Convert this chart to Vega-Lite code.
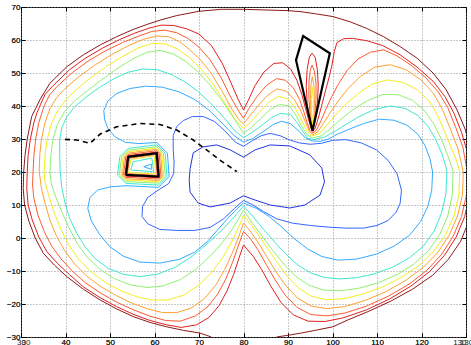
{
  "$schema": "https://vega.github.io/schema/vega-lite/v6.json",
  "width": 445,
  "height": 330,
  "autosize": "none",
  "padding": {"left": 21, "top": 7, "right": 5, "bottom": 8},
  "background": "white",
  "config": {
    "view": {"stroke": "black", "strokeWidth": 1},
    "axis": {"labelFont": "Liberation Sans", "labelFontSize": 8, "labelColor": "#222", "gridColor": "#888", "gridDash": [1, 2], "gridOpacity": 0.9, "domain": false, "tickColor": "black", "tickSize": -4, "labelPadding": 5, "title": null}
  },
  "datasets": {
    "c": [
      {"g":"m1","l":1,"x":73,"y":-31},{"g":"m1","l":1,"x":72.8,"y":-30},{"g":"m1","l":1,"x":70.2,"y":-28.8},{"g":"m1","l":1,"x":66.5,"y":-28},{"g":"m1","l":1,"x":62.7,"y":-26.9},{"g":"m1","l":1,"x":59,"y":-25.6},{"g":"m1","l":1,"x":55.2,"y":-23.8},{"g":"m1","l":1,"x":51.5,"y":-21.5},{"g":"m1","l":1,"x":47.8,"y":-18.8},{"g":"m1","l":1,"x":44,"y":-15.5},{"g":"m1","l":1,"x":40.3,"y":-11.7},{"g":"m1","l":1,"x":37.5,"y":-8.2},{"g":"m1","l":1,"x":35,"y":-4.6},{"g":"m1","l":1,"x":33.2,"y":0},{"g":"m1","l":1,"x":31.8,"y":5},{"g":"m1","l":1,"x":30.8,"y":10},{"g":"m1","l":1,"x":30.5,"y":15},{"g":"m1","l":1,"x":30.6,"y":20},{"g":"m1","l":1,"x":30.9,"y":25},{"g":"m1","l":1,"x":31.4,"y":30},{"g":"m1","l":1,"x":32.4,"y":36.8},{"g":"m1","l":1,"x":34.3,"y":42},{"g":"m1","l":1,"x":36.5,"y":46.9},{"g":"m1","l":1,"x":40.3,"y":51.9},{"g":"m1","l":1,"x":44,"y":55.5},{"g":"m1","l":1,"x":47.8,"y":58.5},{"g":"m1","l":1,"x":51.5,"y":61},{"g":"m1","l":1,"x":55.2,"y":63.2},{"g":"m1","l":1,"x":58.5,"y":64.8},{"g":"m1","l":1,"x":61.2,"y":66},{"g":"m1","l":1,"x":65,"y":67.4},{"g":"m1","l":1,"x":70,"y":68.7},{"g":"m1","l":1,"x":75,"y":69.3},{"g":"m1","l":1,"x":80,"y":69.3},{"g":"m1","l":1,"x":85,"y":69.1},{"g":"m1","l":1,"x":90,"y":68.9},{"g":"m1","l":1,"x":92.7,"y":68.6},{"g":"m1","l":1,"x":96.4,"y":67.9},{"g":"m1","l":1,"x":100.1,"y":67.1},{"g":"m1","l":1,"x":104,"y":65.5},{"g":"m1","l":1,"x":107.7,"y":63.5},{"g":"m1","l":1,"x":111.5,"y":61},{"g":"m1","l":1,"x":115.2,"y":58},{"g":"m1","l":1,"x":119,"y":54.5},{"g":"m1","l":1,"x":122.6,"y":50},{"g":"m1","l":1,"x":125.5,"y":45},{"g":"m1","l":1,"x":128,"y":38.8},{"g":"m1","l":1,"x":129.8,"y":33},{"g":"m1","l":1,"x":131,"y":27},{"g":"m1","l":1,"x":131.8,"y":20},{"g":"m1","l":1,"x":131.6,"y":12},{"g":"m1","l":1,"x":130.6,"y":5},{"g":"m1","l":1,"x":128.8,"y":-1},{"g":"m1","l":1,"x":126,"y":-6.5},{"g":"m1","l":1,"x":122.5,"y":-11.3},{"g":"m1","l":1,"x":118,"y":-15.5},{"g":"m1","l":1,"x":113,"y":-19.2},{"g":"m1","l":1,"x":108,"y":-22.3},{"g":"m1","l":1,"x":103.5,"y":-24.8},{"g":"m1","l":1,"x":100.1,"y":-26.9},{"g":"m1","l":1,"x":96.4,"y":-27.9},{"g":"m1","l":1,"x":93,"y":-28.8},{"g":"m1","l":1,"x":90.4,"y":-29.4},{"g":"m1","l":1,"x":87.4,"y":-30},{"g":"m1","l":1,"x":87.2,"y":-31},

      {"g":"m2","l":2,"x":80,"y":-2.1},{"g":"m2","l":2,"x":79,"y":-6},{"g":"m2","l":2,"x":77.8,"y":-11},{"g":"m2","l":2,"x":76.3,"y":-16},{"g":"m2","l":2,"x":74.5,"y":-20.5},{"g":"m2","l":2,"x":72.3,"y":-24},{"g":"m2","l":2,"x":69.5,"y":-26.3},{"g":"m2","l":2,"x":66,"y":-27.1},{"g":"m2","l":2,"x":62.7,"y":-26.3},{"g":"m2","l":2,"x":59,"y":-25},{"g":"m2","l":2,"x":55.2,"y":-23.1},{"g":"m2","l":2,"x":51.5,"y":-20.8},{"g":"m2","l":2,"x":47.8,"y":-18.1},{"g":"m2","l":2,"x":44,"y":-14.8},{"g":"m2","l":2,"x":40.9,"y":-11.1},{"g":"m2","l":2,"x":38.2,"y":-7.7},{"g":"m2","l":2,"x":35.8,"y":-4.1},{"g":"m2","l":2,"x":34,"y":0.3},{"g":"m2","l":2,"x":32.5,"y":5.6},{"g":"m2","l":2,"x":31.6,"y":10},{"g":"m2","l":2,"x":31.3,"y":15},{"g":"m2","l":2,"x":31.4,"y":20},{"g":"m2","l":2,"x":31.6,"y":25},{"g":"m2","l":2,"x":32.1,"y":30},{"g":"m2","l":2,"x":32.9,"y":35},{"g":"m2","l":2,"x":33.6,"y":38},{"g":"m2","l":2,"x":34.4,"y":40.5},{"g":"m2","l":2,"x":35.4,"y":43.5},{"g":"m2","l":2,"x":37.1,"y":46},{"g":"m2","l":2,"x":40.9,"y":51},{"g":"m2","l":2,"x":44.6,"y":54.6},{"g":"m2","l":2,"x":48.4,"y":57.6},{"g":"m2","l":2,"x":52.1,"y":60.1},{"g":"m2","l":2,"x":55.6,"y":62.1},{"g":"m2","l":2,"x":58.8,"y":63.6},{"g":"m2","l":2,"x":61.5,"y":64.5},{"g":"m2","l":2,"x":64.3,"y":64.4},{"g":"m2","l":2,"x":67.2,"y":63.4},{"g":"m2","l":2,"x":70,"y":61.8},{"g":"m2","l":2,"x":72.8,"y":58.3},{"g":"m2","l":2,"x":75.2,"y":53},{"g":"m2","l":2,"x":77.2,"y":47},{"g":"m2","l":2,"x":78.8,"y":42},{"g":"m2","l":2,"x":80,"y":38.8},{"g":"m2","l":2,"x":81.1,"y":41.8},{"g":"m2","l":2,"x":82.6,"y":46.2},{"g":"m2","l":2,"x":84.6,"y":50.3},{"g":"m2","l":2,"x":86.8,"y":52.9},{"g":"m2","l":2,"x":88.8,"y":53.1},{"g":"m2","l":2,"x":90.6,"y":51.2},{"g":"m2","l":2,"x":92,"y":47.8},{"g":"m2","l":2,"x":93.1,"y":43.5},{"g":"m2","l":2,"x":93.9,"y":39.5},{"g":"m2","l":2,"x":94.6,"y":36},{"g":"m2","l":2,"x":95.2,"y":33.2},{"g":"m2","l":2,"x":95.6,"y":32.3},{"g":"m2","l":2,"x":96.1,"y":33.3},{"g":"m2","l":2,"x":96.8,"y":36.3},{"g":"m2","l":2,"x":97.5,"y":39.8},{"g":"m2","l":2,"x":98.3,"y":44},{"g":"m2","l":2,"x":99.2,"y":48.5},{"g":"m2","l":2,"x":99.9,"y":52.5},{"g":"m2","l":2,"x":100.4,"y":56.5},{"g":"m2","l":2,"x":101,"y":59.2},{"g":"m2","l":2,"x":102.5,"y":60.4},{"g":"m2","l":2,"x":104.5,"y":60.5},{"g":"m2","l":2,"x":107.7,"y":59.8},{"g":"m2","l":2,"x":111.3,"y":58.3},{"g":"m2","l":2,"x":115.2,"y":55.5},{"g":"m2","l":2,"x":119,"y":51.8},{"g":"m2","l":2,"x":122.6,"y":47.5},{"g":"m2","l":2,"x":125.3,"y":42.8},{"g":"m2","l":2,"x":127.3,"y":37.8},{"g":"m2","l":2,"x":129,"y":32},{"g":"m2","l":2,"x":130.3,"y":26},{"g":"m2","l":2,"x":131,"y":20},{"g":"m2","l":2,"x":130.8,"y":13},{"g":"m2","l":2,"x":129.7,"y":6.5},{"g":"m2","l":2,"x":127.8,"y":0.3},{"g":"m2","l":2,"x":125.2,"y":-5.2},{"g":"m2","l":2,"x":121.8,"y":-10.2},{"g":"m2","l":2,"x":117.6,"y":-14.6},{"g":"m2","l":2,"x":112.8,"y":-18.5},{"g":"m2","l":2,"x":107.6,"y":-21.8},{"g":"m2","l":2,"x":102.4,"y":-24.2},{"g":"m2","l":2,"x":98.3,"y":-25.3},{"g":"m2","l":2,"x":94.5,"y":-25.2},{"g":"m2","l":2,"x":91.2,"y":-23.3},{"g":"m2","l":2,"x":88.4,"y":-19.5},{"g":"m2","l":2,"x":86.1,"y":-14.5},{"g":"m2","l":2,"x":84.1,"y":-9.6},{"g":"m2","l":2,"x":82.2,"y":-5.6},{"g":"m2","l":2,"x":80,"y":-2.1},

      {"g":"m3","l":3,"x":80,"y":2},{"g":"m3","l":3,"x":78.8,"y":-2.5},{"g":"m3","l":3,"x":77.5,"y":-7.5},{"g":"m3","l":3,"x":76,"y":-12.5},{"g":"m3","l":3,"x":74.2,"y":-17},{"g":"m3","l":3,"x":72,"y":-20.8},{"g":"m3","l":3,"x":69.2,"y":-23.6},{"g":"m3","l":3,"x":65.8,"y":-25.2},{"g":"m3","l":3,"x":62.5,"y":-25},{"g":"m3","l":3,"x":59,"y":-23.7},{"g":"m3","l":3,"x":55.3,"y":-21.8},{"g":"m3","l":3,"x":51.6,"y":-19.5},{"g":"m3","l":3,"x":48,"y":-16.8},{"g":"m3","l":3,"x":44.5,"y":-13.6},{"g":"m3","l":3,"x":41.5,"y":-10},{"g":"m3","l":3,"x":39,"y":-6.3},{"g":"m3","l":3,"x":36.9,"y":-2.5},{"g":"m3","l":3,"x":35.2,"y":2},{"g":"m3","l":3,"x":33.8,"y":7},{"g":"m3","l":3,"x":32.9,"y":12},{"g":"m3","l":3,"x":32.6,"y":16},{"g":"m3","l":3,"x":32.7,"y":20},{"g":"m3","l":3,"x":32.9,"y":25},{"g":"m3","l":3,"x":33.3,"y":30},{"g":"m3","l":3,"x":34,"y":35},{"g":"m3","l":3,"x":35.2,"y":40},{"g":"m3","l":3,"x":36.4,"y":43.3},{"g":"m3","l":3,"x":38.1,"y":45.9},{"g":"m3","l":3,"x":41.6,"y":50.2},{"g":"m3","l":3,"x":45.3,"y":53.8},{"g":"m3","l":3,"x":49.1,"y":56.8},{"g":"m3","l":3,"x":52.8,"y":59.2},{"g":"m3","l":3,"x":56.3,"y":61.1},{"g":"m3","l":3,"x":59.4,"y":62.6},{"g":"m3","l":3,"x":62.3,"y":63},{"g":"m3","l":3,"x":65,"y":62.2},{"g":"m3","l":3,"x":67.6,"y":60.4},{"g":"m3","l":3,"x":70,"y":57.8},{"g":"m3","l":3,"x":72.5,"y":54},{"g":"m3","l":3,"x":75,"y":48.5},{"g":"m3","l":3,"x":77.2,"y":42.5},{"g":"m3","l":3,"x":79,"y":38.3},{"g":"m3","l":3,"x":80,"y":36.3},{"g":"m3","l":3,"x":81.2,"y":39.2},{"g":"m3","l":3,"x":83,"y":42.8},{"g":"m3","l":3,"x":85.2,"y":46.3},{"g":"m3","l":3,"x":87.4,"y":48.3},{"g":"m3","l":3,"x":89.4,"y":47.8},{"g":"m3","l":3,"x":91.2,"y":45.5},{"g":"m3","l":3,"x":92.6,"y":42},{"g":"m3","l":3,"x":93.5,"y":38.5},{"g":"m3","l":3,"x":94.3,"y":35},{"g":"m3","l":3,"x":94.9,"y":32.6},{"g":"m3","l":3,"x":95.6,"y":31.8},{"g":"m3","l":3,"x":96.4,"y":32.7},{"g":"m3","l":3,"x":97.4,"y":35.5},{"g":"m3","l":3,"x":98.5,"y":39},{"g":"m3","l":3,"x":99.8,"y":42.8},{"g":"m3","l":3,"x":101.4,"y":46.8},{"g":"m3","l":3,"x":103.3,"y":50.8},{"g":"m3","l":3,"x":105.7,"y":54.2},{"g":"m3","l":3,"x":108.5,"y":56.3},{"g":"m3","l":3,"x":111.5,"y":57},{"g":"m3","l":3,"x":114.5,"y":55.2},{"g":"m3","l":3,"x":117.8,"y":52.2},{"g":"m3","l":3,"x":121,"y":48.5},{"g":"m3","l":3,"x":123.8,"y":44.2},{"g":"m3","l":3,"x":125.9,"y":39.5},{"g":"m3","l":3,"x":127.7,"y":33.5},{"g":"m3","l":3,"x":129.3,"y":27.5},{"g":"m3","l":3,"x":130.3,"y":20},{"g":"m3","l":3,"x":130.1,"y":13},{"g":"m3","l":3,"x":129,"y":6.5},{"g":"m3","l":3,"x":127.1,"y":0.5},{"g":"m3","l":3,"x":124.5,"y":-5},{"g":"m3","l":3,"x":121.2,"y":-9.8},{"g":"m3","l":3,"x":117.2,"y":-14},{"g":"m3","l":3,"x":112.6,"y":-17.6},{"g":"m3","l":3,"x":107.7,"y":-20.6},{"g":"m3","l":3,"x":102.9,"y":-22.7},{"g":"m3","l":3,"x":98.8,"y":-23.6},{"g":"m3","l":3,"x":95.1,"y":-23.2},{"g":"m3","l":3,"x":92,"y":-21},{"g":"m3","l":3,"x":89.3,"y":-17.2},{"g":"m3","l":3,"x":87.1,"y":-12.7},{"g":"m3","l":3,"x":85.1,"y":-8},{"g":"m3","l":3,"x":83.2,"y":-3.5},{"g":"m3","l":3,"x":81.6,"y":-0.3},{"g":"m3","l":3,"x":80,"y":2},

      {"g":"m4","l":4,"x":80,"y":4.5},{"g":"m4","l":4,"x":78.9,"y":0.3},{"g":"m4","l":4,"x":77.5,"y":-4.5},{"g":"m4","l":4,"x":75.8,"y":-9.5},{"g":"m4","l":4,"x":73.8,"y":-14.2},{"g":"m4","l":4,"x":71.3,"y":-18.3},{"g":"m4","l":4,"x":68.3,"y":-21.2},{"g":"m4","l":4,"x":65,"y":-22.6},{"g":"m4","l":4,"x":61.8,"y":-22.6},{"g":"m4","l":4,"x":58.5,"y":-21.5},{"g":"m4","l":4,"x":55,"y":-19.8},{"g":"m4","l":4,"x":51.5,"y":-17.5},{"g":"m4","l":4,"x":48,"y":-14.8},{"g":"m4","l":4,"x":44.8,"y":-11.6},{"g":"m4","l":4,"x":42,"y":-7.8},{"g":"m4","l":4,"x":39.8,"y":-3.8},{"g":"m4","l":4,"x":38,"y":0.5},{"g":"m4","l":4,"x":36.6,"y":5},{"g":"m4","l":4,"x":35.5,"y":10},{"g":"m4","l":4,"x":34.6,"y":15},{"g":"m4","l":4,"x":34.1,"y":20},{"g":"m4","l":4,"x":34.2,"y":25},{"g":"m4","l":4,"x":34.6,"y":30},{"g":"m4","l":4,"x":35.4,"y":35},{"g":"m4","l":4,"x":36.6,"y":39.5},{"g":"m4","l":4,"x":38,"y":42.5},{"g":"m4","l":4,"x":39.7,"y":45},{"g":"m4","l":4,"x":43.1,"y":49},{"g":"m4","l":4,"x":46.7,"y":52.5},{"g":"m4","l":4,"x":50.4,"y":55.6},{"g":"m4","l":4,"x":54,"y":58.2},{"g":"m4","l":4,"x":57.5,"y":60.2},{"g":"m4","l":4,"x":60.5,"y":61.2},{"g":"m4","l":4,"x":63.2,"y":61},{"g":"m4","l":4,"x":65.6,"y":59.5},{"g":"m4","l":4,"x":67.8,"y":57.2},{"g":"m4","l":4,"x":70.2,"y":54.2},{"g":"m4","l":4,"x":72.7,"y":50},{"g":"m4","l":4,"x":75.1,"y":44.7},{"g":"m4","l":4,"x":77.4,"y":39},{"g":"m4","l":4,"x":79,"y":35.8},{"g":"m4","l":4,"x":80,"y":34.6},{"g":"m4","l":4,"x":81.3,"y":36.8},{"g":"m4","l":4,"x":83.2,"y":40},{"g":"m4","l":4,"x":85.4,"y":43.2},{"g":"m4","l":4,"x":87.5,"y":45.2},{"g":"m4","l":4,"x":89.6,"y":44.5},{"g":"m4","l":4,"x":91.4,"y":42},{"g":"m4","l":4,"x":92.8,"y":38.8},{"g":"m4","l":4,"x":93.9,"y":35.2},{"g":"m4","l":4,"x":94.8,"y":32.3},{"g":"m4","l":4,"x":95.6,"y":31.3},{"g":"m4","l":4,"x":96.7,"y":32.2},{"g":"m4","l":4,"x":98,"y":34.8},{"g":"m4","l":4,"x":99.5,"y":38},{"g":"m4","l":4,"x":101.3,"y":41.5},{"g":"m4","l":4,"x":103.5,"y":45.3},{"g":"m4","l":4,"x":106.3,"y":49},{"g":"m4","l":4,"x":109.5,"y":51.8},{"g":"m4","l":4,"x":113,"y":52.5},{"g":"m4","l":4,"x":116.5,"y":51},{"g":"m4","l":4,"x":119.8,"y":48},{"g":"m4","l":4,"x":122.6,"y":44},{"g":"m4","l":4,"x":124.7,"y":39},{"g":"m4","l":4,"x":126.5,"y":33},{"g":"m4","l":4,"x":128.2,"y":27},{"g":"m4","l":4,"x":129.4,"y":20},{"g":"m4","l":4,"x":129.2,"y":13},{"g":"m4","l":4,"x":128.1,"y":6.7},{"g":"m4","l":4,"x":126.2,"y":0.8},{"g":"m4","l":4,"x":123.6,"y":-4.5},{"g":"m4","l":4,"x":120.3,"y":-9},{"g":"m4","l":4,"x":116.3,"y":-13},{"g":"m4","l":4,"x":111.8,"y":-16.4},{"g":"m4","l":4,"x":107.2,"y":-19},{"g":"m4","l":4,"x":102.7,"y":-20.8},{"g":"m4","l":4,"x":98.7,"y":-21.4},{"g":"m4","l":4,"x":95.2,"y":-20.6},{"g":"m4","l":4,"x":92.2,"y":-18.3},{"g":"m4","l":4,"x":89.6,"y":-14.6},{"g":"m4","l":4,"x":87.3,"y":-10.2},{"g":"m4","l":4,"x":85.2,"y":-5.6},{"g":"m4","l":4,"x":83.3,"y":-1.4},{"g":"m4","l":4,"x":81.7,"y":1.8},{"g":"m4","l":4,"x":80,"y":4.5},

      {"g":"m5","l":5,"x":80,"y":6.8},{"g":"m5","l":5,"x":78.9,"y":3.2},{"g":"m5","l":5,"x":77.4,"y":-1},{"g":"m5","l":5,"x":75.5,"y":-5.6},{"g":"m5","l":5,"x":73,"y":-10.2},{"g":"m5","l":5,"x":70,"y":-14.3},{"g":"m5","l":5,"x":66.6,"y":-17.3},{"g":"m5","l":5,"x":63,"y":-18.8},{"g":"m5","l":5,"x":59.5,"y":-18.8},{"g":"m5","l":5,"x":56,"y":-17.8},{"g":"m5","l":5,"x":52.5,"y":-16},{"g":"m5","l":5,"x":49,"y":-13.5},{"g":"m5","l":5,"x":45.8,"y":-10.3},{"g":"m5","l":5,"x":43,"y":-6.5},{"g":"m5","l":5,"x":40.8,"y":-2.2},{"g":"m5","l":5,"x":39,"y":2.5},{"g":"m5","l":5,"x":37.5,"y":7.5},{"g":"m5","l":5,"x":36.2,"y":13},{"g":"m5","l":5,"x":35.4,"y":17},{"g":"m5","l":5,"x":35.2,"y":20},{"g":"m5","l":5,"x":35.4,"y":25},{"g":"m5","l":5,"x":35.9,"y":30},{"g":"m5","l":5,"x":36.8,"y":34.5},{"g":"m5","l":5,"x":38.2,"y":38.5},{"g":"m5","l":5,"x":40,"y":41.8},{"g":"m5","l":5,"x":42.3,"y":44.8},{"g":"m5","l":5,"x":45.6,"y":48.5},{"g":"m5","l":5,"x":49.2,"y":52},{"g":"m5","l":5,"x":52.8,"y":55},{"g":"m5","l":5,"x":56.2,"y":57.5},{"g":"m5","l":5,"x":59.5,"y":59},{"g":"m5","l":5,"x":62.5,"y":58.8},{"g":"m5","l":5,"x":65.3,"y":57.2},{"g":"m5","l":5,"x":68,"y":54.5},{"g":"m5","l":5,"x":70.6,"y":51},{"g":"m5","l":5,"x":73.2,"y":46.5},{"g":"m5","l":5,"x":75.8,"y":41},{"g":"m5","l":5,"x":78.2,"y":35.8},{"g":"m5","l":5,"x":80,"y":33.2},{"g":"m5","l":5,"x":81.5,"y":35},{"g":"m5","l":5,"x":83.5,"y":38},{"g":"m5","l":5,"x":85.7,"y":41.2},{"g":"m5","l":5,"x":87.8,"y":42.9},{"g":"m5","l":5,"x":90,"y":42.2},{"g":"m5","l":5,"x":91.6,"y":39.4},{"g":"m5","l":5,"x":92.9,"y":36},{"g":"m5","l":5,"x":94.2,"y":32.6},{"g":"m5","l":5,"x":95.3,"y":30.9},{"g":"m5","l":5,"x":97,"y":31.6},{"g":"m5","l":5,"x":98.6,"y":34},{"g":"m5","l":5,"x":100.5,"y":37},{"g":"m5","l":5,"x":102.8,"y":40.3},{"g":"m5","l":5,"x":105.6,"y":43.6},{"g":"m5","l":5,"x":108.8,"y":46.6},{"g":"m5","l":5,"x":112.3,"y":47.9},{"g":"m5","l":5,"x":115.8,"y":47.2},{"g":"m5","l":5,"x":119,"y":45},{"g":"m5","l":5,"x":121.7,"y":41.5},{"g":"m5","l":5,"x":123.6,"y":37.2},{"g":"m5","l":5,"x":125.2,"y":32.2},{"g":"m5","l":5,"x":126.8,"y":27},{"g":"m5","l":5,"x":128,"y":23},{"g":"m5","l":5,"x":128.6,"y":20},{"g":"m5","l":5,"x":128.4,"y":13},{"g":"m5","l":5,"x":127.3,"y":6.7},{"g":"m5","l":5,"x":125.4,"y":1},{"g":"m5","l":5,"x":122.8,"y":-4},{"g":"m5","l":5,"x":119.5,"y":-8.3},{"g":"m5","l":5,"x":115.6,"y":-11.8},{"g":"m5","l":5,"x":111.3,"y":-14.8},{"g":"m5","l":5,"x":106.8,"y":-17},{"g":"m5","l":5,"x":102.5,"y":-18.4},{"g":"m5","l":5,"x":98.6,"y":-18.7},{"g":"m5","l":5,"x":95.2,"y":-17.6},{"g":"m5","l":5,"x":92.3,"y":-15.1},{"g":"m5","l":5,"x":89.8,"y":-11.5},{"g":"m5","l":5,"x":87.5,"y":-7.3},{"g":"m5","l":5,"x":85.3,"y":-3},{"g":"m5","l":5,"x":83.3,"y":1},{"g":"m5","l":5,"x":81.6,"y":4.2},{"g":"m5","l":5,"x":80,"y":6.8},

      {"g":"m6","l":6,"x":80,"y":8.5},{"g":"m6","l":6,"x":78.9,"y":5.8},{"g":"m6","l":6,"x":77.3,"y":2.3},{"g":"m6","l":6,"x":75.2,"y":-1.5},{"g":"m6","l":6,"x":72.5,"y":-5.5},{"g":"m6","l":6,"x":69.3,"y":-9.5},{"g":"m6","l":6,"x":65.8,"y":-12.6},{"g":"m6","l":6,"x":62,"y":-14.5},{"g":"m6","l":6,"x":58.3,"y":-15},{"g":"m6","l":6,"x":54.6,"y":-14.2},{"g":"m6","l":6,"x":51,"y":-12.3},{"g":"m6","l":6,"x":47.8,"y":-9.6},{"g":"m6","l":6,"x":45,"y":-6},{"g":"m6","l":6,"x":42.8,"y":-2},{"g":"m6","l":6,"x":41,"y":2.5},{"g":"m6","l":6,"x":39.3,"y":7.5},{"g":"m6","l":6,"x":37.8,"y":12.5},{"g":"m6","l":6,"x":36.8,"y":16.5},{"g":"m6","l":6,"x":36.5,"y":20},{"g":"m6","l":6,"x":36.7,"y":25},{"g":"m6","l":6,"x":37.2,"y":30},{"g":"m6","l":6,"x":38.2,"y":34.5},{"g":"m6","l":6,"x":39.8,"y":38.3},{"g":"m6","l":6,"x":42,"y":41.5},{"g":"m6","l":6,"x":44.8,"y":44.5},{"g":"m6","l":6,"x":48.2,"y":48},{"g":"m6","l":6,"x":51.8,"y":51.5},{"g":"m6","l":6,"x":55.2,"y":54.3},{"g":"m6","l":6,"x":58.3,"y":56.3},{"g":"m6","l":6,"x":61.3,"y":56.8},{"g":"m6","l":6,"x":64.2,"y":55.8},{"g":"m6","l":6,"x":66.9,"y":53.6},{"g":"m6","l":6,"x":69.5,"y":50.7},{"g":"m6","l":6,"x":72.2,"y":46.8},{"g":"m6","l":6,"x":75,"y":42},{"g":"m6","l":6,"x":77.7,"y":36.5},{"g":"m6","l":6,"x":80,"y":31.7},{"g":"m6","l":6,"x":81.6,"y":33.3},{"g":"m6","l":6,"x":83.8,"y":36.1},{"g":"m6","l":6,"x":86,"y":38.9},{"g":"m6","l":6,"x":88.1,"y":40.5},{"g":"m6","l":6,"x":90.3,"y":40},{"g":"m6","l":6,"x":91.8,"y":37.2},{"g":"m6","l":6,"x":93,"y":34},{"g":"m6","l":6,"x":94.3,"y":31.3},{"g":"m6","l":6,"x":95.5,"y":30.3},{"g":"m6","l":6,"x":97.6,"y":31},{"g":"m6","l":6,"x":99.4,"y":33},{"g":"m6","l":6,"x":101.7,"y":35.8},{"g":"m6","l":6,"x":104.5,"y":38.8},{"g":"m6","l":6,"x":107.8,"y":41.6},{"g":"m6","l":6,"x":111.3,"y":43.5},{"g":"m6","l":6,"x":114.8,"y":43.4},{"g":"m6","l":6,"x":118,"y":41.7},{"g":"m6","l":6,"x":120.7,"y":38.6},{"g":"m6","l":6,"x":122.8,"y":34.5},{"g":"m6","l":6,"x":124.5,"y":29.8},{"g":"m6","l":6,"x":125.9,"y":25},{"g":"m6","l":6,"x":126.8,"y":21.5},{"g":"m6","l":6,"x":127.1,"y":20},{"g":"m6","l":6,"x":126.9,"y":13},{"g":"m6","l":6,"x":125.9,"y":6.7},{"g":"m6","l":6,"x":124.1,"y":1},{"g":"m6","l":6,"x":121.6,"y":-3.8},{"g":"m6","l":6,"x":118.4,"y":-7.8},{"g":"m6","l":6,"x":114.5,"y":-11.1},{"g":"m6","l":6,"x":110.3,"y":-13.6},{"g":"m6","l":6,"x":106,"y":-15.2},{"g":"m6","l":6,"x":101.8,"y":-16},{"g":"m6","l":6,"x":98,"y":-15.8},{"g":"m6","l":6,"x":94.7,"y":-14.3},{"g":"m6","l":6,"x":91.8,"y":-11.7},{"g":"m6","l":6,"x":89.2,"y":-8.1},{"g":"m6","l":6,"x":86.7,"y":-4},{"g":"m6","l":6,"x":84.3,"y":0.3},{"g":"m6","l":6,"x":82,"y":4.5},{"g":"m6","l":6,"x":80,"y":8.5},

      {"g":"m7","l":7,"x":80,"y":9.7},{"g":"m7","l":7,"x":78.7,"y":7.6},{"g":"m7","l":7,"x":77,"y":5},{"g":"m7","l":7,"x":74.7,"y":1.8},{"g":"m7","l":7,"x":71.8,"y":-1.8},{"g":"m7","l":7,"x":68.4,"y":-5.6},{"g":"m7","l":7,"x":64.7,"y":-8.8},{"g":"m7","l":7,"x":60.8,"y":-10.9},{"g":"m7","l":7,"x":56.8,"y":-11.7},{"g":"m7","l":7,"x":53,"y":-11},{"g":"m7","l":7,"x":49.6,"y":-9.2},{"g":"m7","l":7,"x":46.7,"y":-6.3},{"g":"m7","l":7,"x":44.3,"y":-2.5},{"g":"m7","l":7,"x":42.5,"y":1.5},{"g":"m7","l":7,"x":41,"y":5.8},{"g":"m7","l":7,"x":40,"y":10},{"g":"m7","l":7,"x":39.2,"y":15},{"g":"m7","l":7,"x":38.8,"y":20},{"g":"m7","l":7,"x":38.7,"y":25},{"g":"m7","l":7,"x":38.7,"y":30},{"g":"m7","l":7,"x":39.2,"y":33.5},{"g":"m7","l":7,"x":40.3,"y":36.8},{"g":"m7","l":7,"x":42.1,"y":39.8},{"g":"m7","l":7,"x":44.6,"y":42.7},{"g":"m7","l":7,"x":47.6,"y":45.6},{"g":"m7","l":7,"x":50.8,"y":48.2},{"g":"m7","l":7,"x":54,"y":50.2},{"g":"m7","l":7,"x":57.3,"y":51.2},{"g":"m7","l":7,"x":60.6,"y":51},{"g":"m7","l":7,"x":63.7,"y":49.6},{"g":"m7","l":7,"x":66.7,"y":47.4},{"g":"m7","l":7,"x":69.6,"y":44.6},{"g":"m7","l":7,"x":72.5,"y":41},{"g":"m7","l":7,"x":75.4,"y":36.8},{"g":"m7","l":7,"x":78.1,"y":32.4},{"g":"m7","l":7,"x":80,"y":30.4},{"g":"m7","l":7,"x":81.7,"y":31.8},{"g":"m7","l":7,"x":84,"y":34},{"g":"m7","l":7,"x":86.3,"y":36.5},{"g":"m7","l":7,"x":88.4,"y":37.8},{"g":"m7","l":7,"x":90.6,"y":37.4},{"g":"m7","l":7,"x":91.9,"y":35.2},{"g":"m7","l":7,"x":93.1,"y":32.8},{"g":"m7","l":7,"x":94.4,"y":30.3},{"g":"m7","l":7,"x":95.8,"y":29.8},{"g":"m7","l":7,"x":98.2,"y":30.6},{"g":"m7","l":7,"x":100.4,"y":32.2},{"g":"m7","l":7,"x":103,"y":34.4},{"g":"m7","l":7,"x":106,"y":36.8},{"g":"m7","l":7,"x":109.5,"y":39},{"g":"m7","l":7,"x":113,"y":40},{"g":"m7","l":7,"x":116.3,"y":39.3},{"g":"m7","l":7,"x":119.2,"y":37.1},{"g":"m7","l":7,"x":121.5,"y":33.8},{"g":"m7","l":7,"x":123.2,"y":29.8},{"g":"m7","l":7,"x":124.6,"y":25.5},{"g":"m7","l":7,"x":125.5,"y":21.5},{"g":"m7","l":7,"x":125.7,"y":20},{"g":"m7","l":7,"x":125.5,"y":13.5},{"g":"m7","l":7,"x":124.5,"y":7.5},{"g":"m7","l":7,"x":122.8,"y":2},{"g":"m7","l":7,"x":120.4,"y":-2.5},{"g":"m7","l":7,"x":117.3,"y":-6},{"g":"m7","l":7,"x":113.6,"y":-8.8},{"g":"m7","l":7,"x":109.6,"y":-10.8},{"g":"m7","l":7,"x":105.6,"y":-12},{"g":"m7","l":7,"x":101.8,"y":-12.4},{"g":"m7","l":7,"x":98.3,"y":-12},{"g":"m7","l":7,"x":95.1,"y":-10.6},{"g":"m7","l":7,"x":92.2,"y":-8.2},{"g":"m7","l":7,"x":89.6,"y":-5},{"g":"m7","l":7,"x":87.1,"y":-1.4},{"g":"m7","l":7,"x":84.6,"y":2.5},{"g":"m7","l":7,"x":82.2,"y":6.4},{"g":"m7","l":7,"x":80,"y":9.7},

      {"g":"m8","l":8,"x":80,"y":10.6},{"g":"m8","l":8,"x":78.5,"y":8.8},{"g":"m8","l":8,"x":76.5,"y":6},{"g":"m8","l":8,"x":74.2,"y":2.5},{"g":"m8","l":8,"x":71.8,"y":-1.2},{"g":"m8","l":8,"x":69,"y":-4.3},{"g":"m8","l":8,"x":65.5,"y":-6.5},{"g":"m8","l":8,"x":61.2,"y":-7.6},{"g":"m8","l":8,"x":56.7,"y":-7.3},{"g":"m8","l":8,"x":53,"y":-5.5},{"g":"m8","l":8,"x":50,"y":-2.7},{"g":"m8","l":8,"x":47.6,"y":1.2},{"g":"m8","l":8,"x":45.8,"y":5.2},{"g":"m8","l":8,"x":45,"y":9},{"g":"m8","l":8,"x":45.5,"y":12.3},{"g":"m8","l":8,"x":47.2,"y":14.5},{"g":"m8","l":8,"x":50,"y":15.5},{"g":"m8","l":8,"x":53.6,"y":15.85},{"g":"m8","l":8,"x":60.9,"y":15.35},{"g":"m8","l":8,"x":63.3,"y":18.6},{"g":"m8","l":8,"x":62.9,"y":25.7},{"g":"m8","l":8,"x":60.5,"y":28.95},{"g":"m8","l":8,"x":56.5,"y":28.6},{"g":"m8","l":8,"x":53.5,"y":29},{"g":"m8","l":8,"x":51.2,"y":30.6},{"g":"m8","l":8,"x":49.6,"y":33},{"g":"m8","l":8,"x":48.8,"y":35.8},{"g":"m8","l":8,"x":48.6,"y":38.6},{"g":"m8","l":8,"x":49.5,"y":41.5},{"g":"m8","l":8,"x":51.5,"y":43.8},{"g":"m8","l":8,"x":54.5,"y":45.3},{"g":"m8","l":8,"x":58,"y":46},{"g":"m8","l":8,"x":61.8,"y":45.7},{"g":"m8","l":8,"x":65.5,"y":44.3},{"g":"m8","l":8,"x":69,"y":42},{"g":"m8","l":8,"x":72.2,"y":38.8},{"g":"m8","l":8,"x":75.2,"y":34.8},{"g":"m8","l":8,"x":77.9,"y":31},{"g":"m8","l":8,"x":80,"y":29.1},{"g":"m8","l":8,"x":82,"y":30.1},{"g":"m8","l":8,"x":84.4,"y":32.2},{"g":"m8","l":8,"x":86.7,"y":34.4},{"g":"m8","l":8,"x":88.6,"y":35.4},{"g":"m8","l":8,"x":90.6,"y":34.6},{"g":"m8","l":8,"x":92.5,"y":32.3},{"g":"m8","l":8,"x":94,"y":30.2},{"g":"m8","l":8,"x":95.5,"y":29.4},{"g":"m8","l":8,"x":97.2,"y":29.3},{"g":"m8","l":8,"x":99,"y":29.9},{"g":"m8","l":8,"x":101,"y":31.4},{"g":"m8","l":8,"x":103.8,"y":33},{"g":"m8","l":8,"x":107,"y":34.7},{"g":"m8","l":8,"x":110.5,"y":36},{"g":"m8","l":8,"x":113.8,"y":35.7},{"g":"m8","l":8,"x":116.7,"y":34.2},{"g":"m8","l":8,"x":119.1,"y":31.6},{"g":"m8","l":8,"x":120.8,"y":28},{"g":"m8","l":8,"x":121.9,"y":24},{"g":"m8","l":8,"x":122.5,"y":20},{"g":"m8","l":8,"x":122.3,"y":14.5},{"g":"m8","l":8,"x":121.4,"y":9.5},{"g":"m8","l":8,"x":119.8,"y":5},{"g":"m8","l":8,"x":117.3,"y":0.8},{"g":"m8","l":8,"x":113.8,"y":-2.5},{"g":"m8","l":8,"x":109.8,"y":-4.9},{"g":"m8","l":8,"x":105.4,"y":-6.4},{"g":"m8","l":8,"x":101.2,"y":-6.7},{"g":"m8","l":8,"x":97.6,"y":-5.6},{"g":"m8","l":8,"x":94.4,"y":-3.3},{"g":"m8","l":8,"x":91.4,"y":-0.2},{"g":"m8","l":8,"x":88.6,"y":3.3},{"g":"m8","l":8,"x":85.8,"y":6.5},{"g":"m8","l":8,"x":83,"y":8.9},{"g":"m8","l":8,"x":80,"y":10.6},

      {"g":"m9","l":9,"x":80,"y":11.4},{"g":"m9","l":9,"x":78,"y":9},{"g":"m9","l":9,"x":75.5,"y":5.8},{"g":"m9","l":9,"x":72.5,"y":3.2},{"g":"m9","l":9,"x":69,"y":2.3},{"g":"m9","l":9,"x":65,"y":2.3},{"g":"m9","l":9,"x":61.2,"y":2.6},{"g":"m9","l":9,"x":58.5,"y":4.3},{"g":"m9","l":9,"x":57.2,"y":6.5},{"g":"m9","l":9,"x":57.3,"y":9.5},{"g":"m9","l":9,"x":58.5,"y":12.3},{"g":"m9","l":9,"x":60.8,"y":14.5},{"g":"m9","l":9,"x":63.2,"y":16.5},{"g":"m9","l":9,"x":64.3,"y":19.5},{"g":"m9","l":9,"x":64.4,"y":23},{"g":"m9","l":9,"x":64.2,"y":27},{"g":"m9","l":9,"x":64.2,"y":31},{"g":"m9","l":9,"x":65,"y":33.8},{"g":"m9","l":9,"x":66.5,"y":35.6},{"g":"m9","l":9,"x":68.5,"y":36.8},{"g":"m9","l":9,"x":71,"y":36.8},{"g":"m9","l":9,"x":73.5,"y":35.3},{"g":"m9","l":9,"x":75.8,"y":32.5},{"g":"m9","l":9,"x":78.2,"y":29},{"g":"m9","l":9,"x":80,"y":27.8},{"g":"m9","l":9,"x":82,"y":29.5},{"g":"m9","l":9,"x":84,"y":31},{"g":"m9","l":9,"x":86,"y":31.7},{"g":"m9","l":9,"x":88.2,"y":31},{"g":"m9","l":9,"x":90.4,"y":29.7},{"g":"m9","l":9,"x":92.6,"y":28.8},{"g":"m9","l":9,"x":95,"y":28.4},{"g":"m9","l":9,"x":97.5,"y":28.7},{"g":"m9","l":9,"x":100,"y":29.6},{"g":"m9","l":9,"x":103,"y":29.8},{"g":"m9","l":9,"x":106.5,"y":28.8},{"g":"m9","l":9,"x":109.9,"y":26.7},{"g":"m9","l":9,"x":112.5,"y":23.5},{"g":"m9","l":9,"x":114.5,"y":19.5},{"g":"m9","l":9,"x":115.5,"y":14.5},{"g":"m9","l":9,"x":115.2,"y":10.5},{"g":"m9","l":9,"x":114.3,"y":7.8},{"g":"m9","l":9,"x":112.5,"y":5.3},{"g":"m9","l":9,"x":110,"y":3.8},{"g":"m9","l":9,"x":107,"y":3},{"g":"m9","l":9,"x":103,"y":3},{"g":"m9","l":9,"x":99,"y":3.3},{"g":"m9","l":9,"x":95,"y":3.8},{"g":"m9","l":9,"x":91,"y":4.5},{"g":"m9","l":9,"x":87.5,"y":5.8},{"g":"m9","l":9,"x":84.5,"y":8},{"g":"m9","l":9,"x":82,"y":10.1},{"g":"m9","l":9,"x":80,"y":11.4},

      {"g":"m10","l":10,"x":67.8,"y":17.6},{"g":"m10","l":10,"x":68,"y":21},{"g":"m10","l":10,"x":68.7,"y":25.8},{"g":"m10","l":10,"x":70.9,"y":27.6},{"g":"m10","l":10,"x":74,"y":28.2},{"g":"m10","l":10,"x":77,"y":26.7},{"g":"m10","l":10,"x":80,"y":24.5},{"g":"m10","l":10,"x":82.6,"y":26.7},{"g":"m10","l":10,"x":86,"y":28.2},{"g":"m10","l":10,"x":90.4,"y":27.9},{"g":"m10","l":10,"x":94.9,"y":25.2},{"g":"m10","l":10,"x":97.6,"y":21.2},{"g":"m10","l":10,"x":98.2,"y":17},{"g":"m10","l":10,"x":97.2,"y":13},{"g":"m10","l":10,"x":93.8,"y":10},{"g":"m10","l":10,"x":90.4,"y":9.1},{"g":"m10","l":10,"x":86,"y":10},{"g":"m10","l":10,"x":82.6,"y":11.5},{"g":"m10","l":10,"x":80,"y":12.8},{"g":"m10","l":10,"x":77,"y":10.6},{"g":"m10","l":10,"x":72.5,"y":9.4},{"g":"m10","l":10,"x":69.8,"y":10.6},{"g":"m10","l":10,"x":68,"y":13.9},{"g":"m10","l":10,"x":67.8,"y":17.6},

      {"g":"r2","l":2,"x":53.35,"y":19.1},{"g":"r2","l":2,"x":53.85,"y":24.6},{"g":"r2","l":2,"x":54.1,"y":24.94},{"g":"r2","l":2,"x":60.5,"y":26.04},{"g":"r2","l":2,"x":60.75,"y":25.7},{"g":"r2","l":2,"x":61.15,"y":18.6},{"g":"r2","l":2,"x":60.9,"y":18.26},{"g":"r2","l":2,"x":53.6,"y":18.76},{"g":"r2","l":2,"x":53.35,"y":19.1},
      {"g":"r3","l":3,"x":53.05,"y":19.1},{"g":"r3","l":3,"x":53.55,"y":24.6},{"g":"r3","l":3,"x":54.1,"y":25.34},{"g":"r3","l":3,"x":60.5,"y":26.44},{"g":"r3","l":3,"x":61.05,"y":25.7},{"g":"r3","l":3,"x":61.45,"y":18.6},{"g":"r3","l":3,"x":60.9,"y":17.86},{"g":"r3","l":3,"x":53.6,"y":18.36},{"g":"r3","l":3,"x":53.05,"y":19.1},
      {"g":"r4","l":4,"x":52.75,"y":19.1},{"g":"r4","l":4,"x":53.25,"y":24.6},{"g":"r4","l":4,"x":54.1,"y":25.75},{"g":"r4","l":4,"x":60.5,"y":26.85},{"g":"r4","l":4,"x":61.35,"y":25.7},{"g":"r4","l":4,"x":61.75,"y":18.6},{"g":"r4","l":4,"x":60.9,"y":17.45},{"g":"r4","l":4,"x":53.6,"y":17.95},{"g":"r4","l":4,"x":52.75,"y":19.1},
      {"g":"r5","l":5,"x":52.45,"y":19.1},{"g":"r5","l":5,"x":52.95,"y":24.6},{"g":"r5","l":5,"x":54.1,"y":26.15},{"g":"r5","l":5,"x":60.5,"y":27.25},{"g":"r5","l":5,"x":61.65,"y":25.7},{"g":"r5","l":5,"x":62.05,"y":18.6},{"g":"r5","l":5,"x":60.9,"y":17.05},{"g":"r5","l":5,"x":53.6,"y":17.55},{"g":"r5","l":5,"x":52.45,"y":19.1},
      {"g":"r6","l":6,"x":52.1,"y":19.1},{"g":"r6","l":6,"x":52.6,"y":24.6},{"g":"r6","l":6,"x":54.1,"y":26.6},{"g":"r6","l":6,"x":60.5,"y":27.7},{"g":"r6","l":6,"x":62,"y":25.7},{"g":"r6","l":6,"x":62.4,"y":18.6},{"g":"r6","l":6,"x":60.9,"y":16.6},{"g":"r6","l":6,"x":53.6,"y":17.1},{"g":"r6","l":6,"x":52.1,"y":19.1},
      {"g":"r7","l":7,"x":51.7,"y":19.1},{"g":"r7","l":7,"x":52.2,"y":24.6},{"g":"r7","l":7,"x":54.1,"y":27.15},{"g":"r7","l":7,"x":60.5,"y":28.25},{"g":"r7","l":7,"x":62.4,"y":25.7},{"g":"r7","l":7,"x":62.8,"y":18.6},{"g":"r7","l":7,"x":60.9,"y":16.05},{"g":"r7","l":7,"x":53.6,"y":16.55},{"g":"r7","l":7,"x":51.7,"y":19.1},
      {"g":"i3","l":3,"x":54.4,"y":24.2},{"g":"i3","l":3,"x":60.2,"y":25.3},{"g":"i3","l":3,"x":60.6,"y":19},{"g":"i3","l":3,"x":53.9,"y":19.5},{"g":"i3","l":3,"x":54.4,"y":24.2},
      {"g":"i5","l":5,"x":54.7,"y":23.8},{"g":"i5","l":5,"x":59.9,"y":24.9},{"g":"i5","l":5,"x":60.3,"y":19.4},{"g":"i5","l":5,"x":54.2,"y":19.9},{"g":"i5","l":5,"x":54.7,"y":23.8},
      {"g":"i7","l":7,"x":55.2,"y":23.1},{"g":"i7","l":7,"x":59.4,"y":24.2},{"g":"i7","l":7,"x":59.8,"y":20.1},{"g":"i7","l":7,"x":54.7,"y":20.6},{"g":"i7","l":7,"x":55.2,"y":23.1},
      {"g":"t8","l":8,"x":57.6,"y":21.6},{"g":"t8","l":8,"x":59.3,"y":22.4},{"g":"t8","l":8,"x":59.3,"y":20.8},{"g":"t8","l":8,"x":57.6,"y":21.6},

      {"g":"a2","l":2,"x":95.5,"y":32.6},{"g":"a2","l":2,"x":94.8,"y":36},{"g":"a2","l":2,"x":94.3,"y":41},{"g":"a2","l":2,"x":94.1,"y":46},{"g":"a2","l":2,"x":94.3,"y":51},{"g":"a2","l":2,"x":94.8,"y":54.8},{"g":"a2","l":2,"x":95.4,"y":56},{"g":"a2","l":2,"x":96.1,"y":54.8},{"g":"a2","l":2,"x":96.6,"y":51},{"g":"a2","l":2,"x":96.8,"y":46},{"g":"a2","l":2,"x":96.6,"y":41},{"g":"a2","l":2,"x":96.1,"y":36},{"g":"a2","l":2,"x":95.5,"y":32.6},
      {"g":"a3","l":3,"x":95.5,"y":32.8},{"g":"a3","l":3,"x":95,"y":37},{"g":"a3","l":3,"x":94.7,"y":42},{"g":"a3","l":3,"x":94.7,"y":47},{"g":"a3","l":3,"x":95,"y":50.8},{"g":"a3","l":3,"x":95.4,"y":52.4},{"g":"a3","l":3,"x":95.9,"y":50.8},{"g":"a3","l":3,"x":96.3,"y":47},{"g":"a3","l":3,"x":96.3,"y":42},{"g":"a3","l":3,"x":96,"y":37},{"g":"a3","l":3,"x":95.5,"y":32.8},
      {"g":"a4","l":4,"x":95.5,"y":33.1},{"g":"a4","l":4,"x":95.15,"y":37},{"g":"a4","l":4,"x":95.05,"y":42},{"g":"a4","l":4,"x":95.15,"y":46.5},{"g":"a4","l":4,"x":95.45,"y":48.9},{"g":"a4","l":4,"x":95.8,"y":46.5},{"g":"a4","l":4,"x":95.95,"y":42},{"g":"a4","l":4,"x":95.85,"y":37},{"g":"a4","l":4,"x":95.5,"y":33.1},
      {"g":"a5","l":5,"x":95.5,"y":33.4},{"g":"a5","l":5,"x":95.3,"y":38},{"g":"a5","l":5,"x":95.25,"y":42},{"g":"a5","l":5,"x":95.45,"y":45.8},{"g":"a5","l":5,"x":95.7,"y":42},{"g":"a5","l":5,"x":95.7,"y":38},{"g":"a5","l":5,"x":95.5,"y":33.4}
    ],
    "k": [
      {"g":"k1","x":53.6,"y":19.1},{"g":"k1","x":54.1,"y":24.6},{"g":"k1","x":60.5,"y":25.7},{"g":"k1","x":60.9,"y":18.6},{"g":"k1","x":53.6,"y":19.1},
      {"g":"k2","x":95.5,"y":32.5},{"g":"k2","x":91.8,"y":53.9},{"g":"k2","x":93.4,"y":61.2},{"g":"k2","x":99.4,"y":56},{"g":"k2","x":95.5,"y":32.5}
    ],
    "d": [
      {"x":39.9,"y":29.9},{"x":42.5,"y":29.7},{"x":45.5,"y":28.7},{"x":47.8,"y":31.5},{"x":51.5,"y":33.7},{"x":56.7,"y":34.7},{"x":61.2,"y":34.4},{"x":65,"y":32.7},{"x":68.7,"y":29.7},{"x":71.7,"y":26.7},{"x":74.7,"y":23.6},{"x":78.5,"y":20.1}
    ]
  },
  "layer": [
    {
      "data": {"name": "c"},
      "mark": {"type": "line", "strokeWidth": 1, "clip": true},
      "encoding": {
        "x": {"field": "x", "type": "quantitative", "scale": {"domain": [30, 130], "nice": false, "zero": false}, "axis": {"orient": "bottom", "values": [30, 40, 50, 60, 70, 80, 90, 100, 110, 120, 130], "grid": true, "labelFlush": false}},
        "y": {"field": "y", "type": "quantitative", "scale": {"domain": [-30, 70], "nice": false, "zero": false}, "axis": {"orient": "left", "values": [-30, -20, -10, 0, 10, 20, 30, 40, 50, 60, 70], "grid": true, "labelFlush": false}},
        "detail": {"field": "g", "type": "nominal"},
        "color": {"field": "l", "type": "nominal", "legend": null, "scale": {"domain": [1, 2, 3, 4, 5, 6, 7, 8, 9, 10], "range": ["#8b1a1a", "#e02020", "#ff5a30", "#ffa030", "#f2ee20", "#90f070", "#40e6d0", "#35aaff", "#3366ff", "#2233dd"]}},
        "order": {"value": null}
      }
    },
    {
      "data": {"name": "k"},
      "mark": {"type": "line", "strokeWidth": 2.2, "color": "black", "clip": true},
      "encoding": {
        "x": {"field": "x", "type": "quantitative", "axis": {"orient": "top", "values": [30, 40, 50, 60, 70, 80, 90, 100, 110, 120, 130], "labels": false, "grid": false}},
        "y": {"field": "y", "type": "quantitative", "axis": {"orient": "right", "values": [-30, -20, -10, 0, 10, 20, 30, 40, 50, 60, 70], "labels": false, "grid": false}},
        "detail": {"field": "g", "type": "nominal"},
        "order": {"value": null}
      }
    },
    {
      "data": {"name": "d"},
      "mark": {"type": "line", "strokeWidth": 1.6, "color": "black", "strokeDash": [5, 4], "clip": true},
      "encoding": {
        "x": {"field": "x", "type": "quantitative"},
        "y": {"field": "y", "type": "quantitative"}
      }
    }
  ]
}
